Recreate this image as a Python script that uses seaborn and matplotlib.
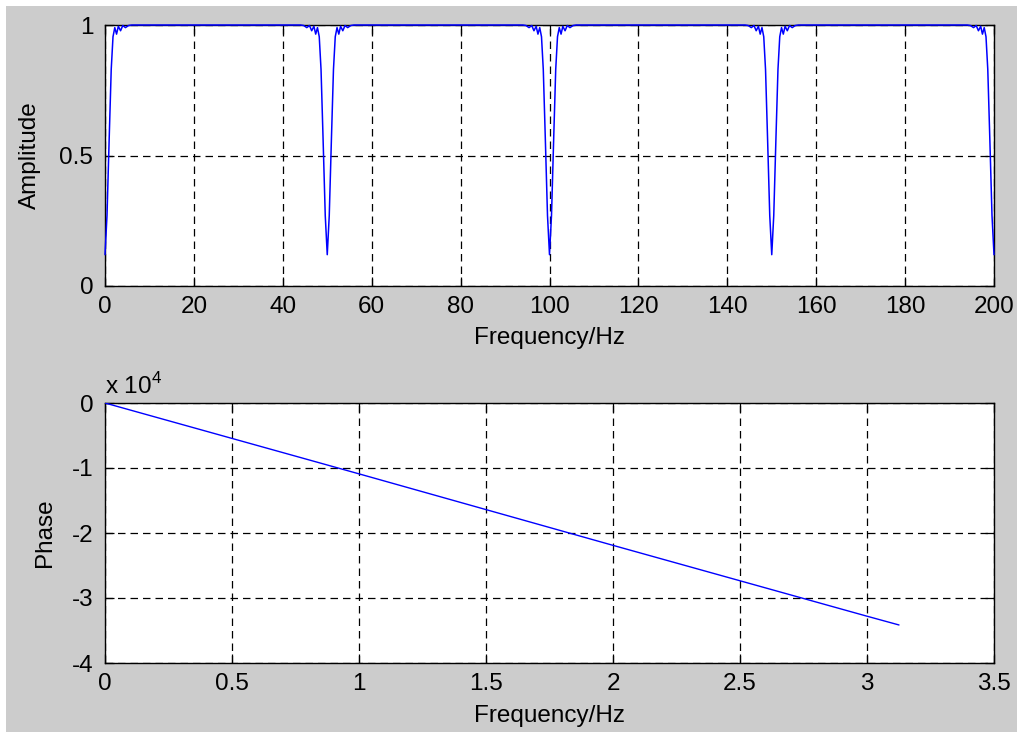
import numpy as np
import pandas as pd
import matplotlib
matplotlib.use("Agg")
import matplotlib.pyplot as plt
import seaborn as sns
from matplotlib.patches import Rectangle
from matplotlib.ticker import FuncFormatter, FixedLocator

# ---------------- data ----------------
# Amplitude response: notch centres (Hz) and a one-sided notch profile
notch_centres = [0, 50, 100, 150, 200]
notch_offsets = [0.0, 0.45, 0.95, 1.4, 1.8, 2.2, 2.6, 3.0, 3.5, 4.0, 4.6, 5.3, 6.0]
notch_levels = [0.12, 0.27, 0.57, 0.83, 0.955, 0.99, 0.965, 0.995, 0.978, 0.998, 0.99, 0.998, 1.0]
freq_range = [0, 200]

# Phase response (x in rad/sample, phase value in plot units)
phase_w = [0, 0.5, 1.0, 1.5, 2.0, 2.5, 3.0, 3.126]
phase_val = [0, -5450, -10900, -16400, -21900, -27350, -32800, -34150]

amp_xticks = [0, 20, 40, 60, 80, 100, 120, 140, 160, 180, 200]
amp_yticks = [0, 0.5, 1]
ph_xticks = [0, 0.5, 1, 1.5, 2, 2.5, 3, 3.5]
ph_yticks = [-40000, -30000, -20000, -10000, 0]

# build amplitude table from the notch profile
pts = []
for c in notch_centres:
    left = [(c - o, v) for o, v in zip(notch_offsets[::-1], notch_levels[::-1])]
    right = [(c + o, v) for o, v in zip(notch_offsets[1:], notch_levels[1:])]
    for f, a in left + right:
        if freq_range[0] <= f <= freq_range[1]:
            pts.append((f, a))
amp_df = pd.DataFrame(pts, columns=["Frequency", "Amplitude"]).sort_values("Frequency")
phase_df = pd.DataFrame({"w": phase_w, "Phase": phase_val})

# ---------------- style ----------------
sns.set_style("white")
plt.rcParams["font.family"] = ["Liberation Sans", "DejaVu Sans"]
plt.rcParams["mathtext.fontset"] = "custom"
plt.rcParams["mathtext.rm"] = "Liberation Sans"
plt.rcParams["text.color"] = "black"
plt.rcParams["axes.labelcolor"] = "black"
plt.rcParams["xtick.color"] = "black"
plt.rcParams["ytick.color"] = "black"
FS = 17.5
GREY = "#cccccc"
BLUE = "#0000ff"

fig = plt.figure(figsize=(10.24, 7.38), dpi=100, facecolor="white")
fig.patches.append(Rectangle((6 / 1024, 1 - 732 / 738), 1011 / 1024, 726 / 738,
                             transform=fig.transFigure, facecolor=GREY,
                             edgecolor="none", zorder=-10))

ax1 = fig.add_axes([105 / 1024, 1 - 286 / 738, 889 / 1024, 261 / 738])
ax2 = fig.add_axes([105 / 1024, 1 - 663 / 738, 889 / 1024, 260 / 738])

sns.lineplot(data=amp_df, x="Frequency", y="Amplitude", ax=ax1, sort=False,
             estimator=None, color=BLUE, lw=1.1, clip_on=False, zorder=3)
sns.lineplot(data=phase_df, x="w", y="Phase", ax=ax2, sort=False,
             estimator=None, color=BLUE, lw=1.0, zorder=3)

fmt = FuncFormatter(lambda v, p: f"{v:g}")
fmt4 = FuncFormatter(lambda v, p: f"{v / 1e4:g}")

for ax, xt, yt, xl, yl in [(ax1, amp_xticks, amp_yticks, (0, 200), (0, 1)),
                           (ax2, ph_xticks, ph_yticks, (0, 3.5), (-40000, 0))]:
    ax.set_facecolor("white")
    ax.set_xlim(*xl)
    ax.set_ylim(*yl)
    ax.xaxis.set_major_locator(FixedLocator(xt))
    ax.yaxis.set_major_locator(FixedLocator(yt))
    ax.xaxis.set_major_formatter(fmt)
    ax.grid(True, color="black", linestyle=(0, (6, 4)), lw=0.9)
    ax.tick_params(direction="in", length=6.5, width=0.9, colors="black",
                   labelcolor="black", labelsize=FS,
                   top=True, right=True, bottom=True, left=True)
    ax.tick_params(axis="x", pad=7.5)
    ax.tick_params(axis="y", pad=8.5)
    for s in ax.spines.values():
        s.set_visible(True)
        s.set_color("black")
        s.set_linewidth(1.0)
    ax.set_xlabel("Frequency/Hz", fontsize=FS, color="black")

ax1.yaxis.set_major_formatter(fmt)
ax2.yaxis.set_major_formatter(fmt4)

ax1.set_ylabel("Amplitude", fontsize=FS, color="black")
ax2.set_ylabel("Phase", fontsize=FS, color="black")
ax1.yaxis.set_label_coords(-0.072, 0.5)
ax2.yaxis.set_label_coords(-0.055, 0.5)
ax1.xaxis.set_label_coords(0.5, -0.157)
ax2.xaxis.set_label_coords(0.5, -0.160)

ax2.text(0.0, 1.015, r"x 10$^{\mathregular{4}}$", transform=ax2.transAxes,
         fontsize=FS, ha="left", va="bottom", color="black")

fig.savefig("out.png", dpi=100, facecolor="white")
